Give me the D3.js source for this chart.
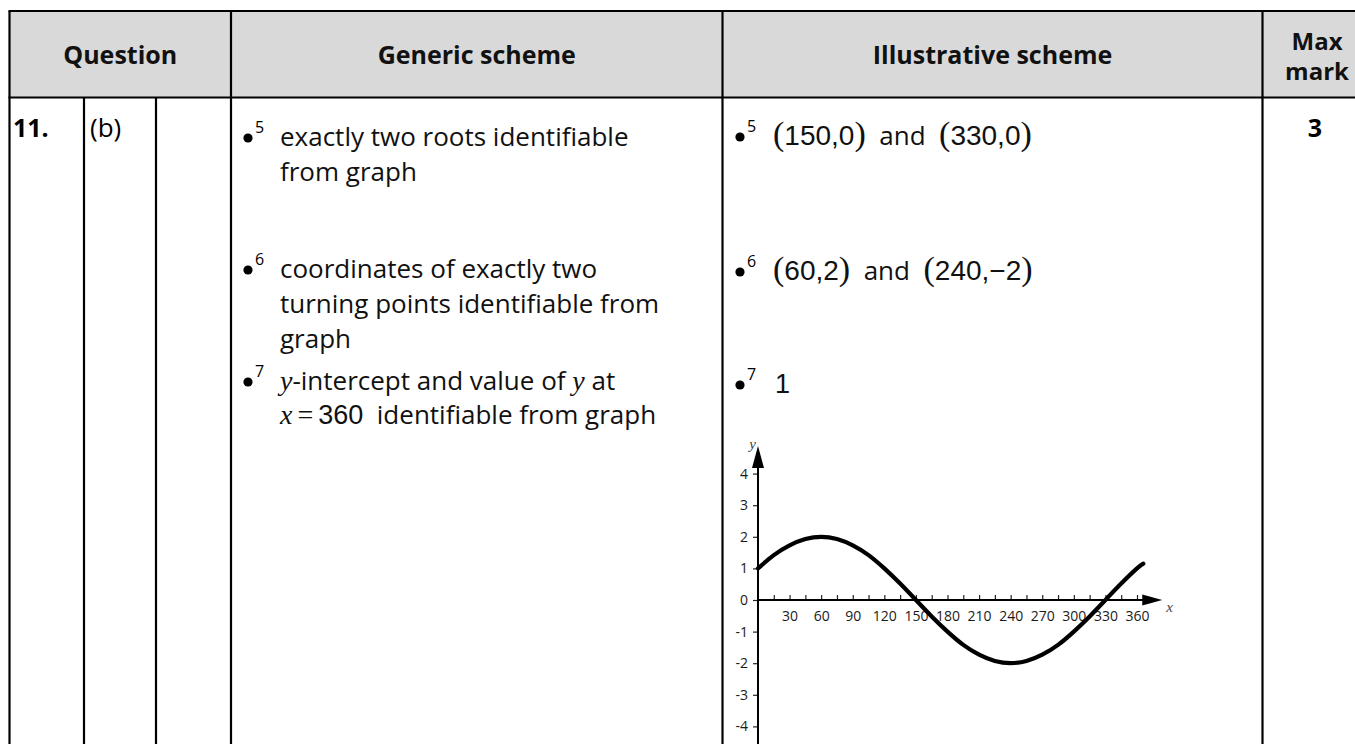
<!DOCTYPE html>
<html lang="en">
<head>
<meta charset="utf-8">
<title>Marking scheme 11(b)</title>
<script src="https://d3js.org/d3.v7.min.js"></script>
<style>
  body { margin: 0; background: #fff; }
  svg { display: block; }
</style>
</head>
<body>
<div id="chart"></div>
<script>
// ---- data ----
const headers = ["Question", "Generic scheme", "Illustrative scheme", "Max mark"];
const questionCells = ["11.", "(b)", ""];
const maxMark = "3";

// graph of the illustrative answer
const xTickLabels = [30, 60, 90, 120, 150, 180, 210, 240, 270, 300, 330, 360];
const xMinorTicks = [15, 30, 45, 60, 75, 90, 105, 120, 135, 150, 165, 180, 195, 210, 225, 240, 255, 270, 285, 300, 315, 330, 345, 360];
const yTickLabels = [4, 3, 2, 1, 0, -1, -2, -3, -4];
const curveX = [0, 15, 30, 45, 60, 75, 90, 105, 120, 135, 150, 165, 180, 195, 210, 225, 240, 255, 270, 285, 300, 315, 330, 345, 360, 366];
const curveY = [1.0, 1.42, 1.73, 1.93, 2.0, 1.93, 1.73, 1.42, 1.0, 0.52, 0.0, -0.52, -1.0, -1.42, -1.73, -1.93, -2.0, -1.93, -1.73, -1.42, -1.0, -0.52, 0.0, 0.52, 1.0, 1.15];

// ---- layout ----
const W = 1355, H = 744;
const colX = [9.5, 84, 156, 231, 722.5, 1262.5, 1372];
const tableTop = 11, headBottom = 97.5;
const sans = "'Open Sans', 'Noto Sans', sans-serif";
const serif = "'Liberation Serif', 'DejaVu Serif', serif";
const mathSans = "'Liberation Sans', Arial, sans-serif";
const fs = 26;

const svg = d3.select("#chart").append("svg")
    .attr("width", W)
    .attr("height", H);

// header background
svg.append("rect")
    .attr("x", colX[0]).attr("y", tableTop)
    .attr("width", colX[6] - colX[0]).attr("height", headBottom - tableTop)
    .attr("fill", "#d9d9d9");

// header texts
const headCentres = [
  (colX[0] + colX[3]) / 2,
  (colX[3] + colX[4]) / 2,
  (colX[4] + colX[5]) / 2,
  1317
];
headers.forEach(function(h, i) {
  const words = h == "Max mark" ? ["Max", "mark"] : [h];
  const y0 = words.length > 1 ? 50 : 64;
  words.forEach(function(w, j) {
    svg.append("text")
        .attr("x", headCentres[i])
        .attr("y", y0 + j * 30)
        .attr("text-anchor", "middle")
        .attr("font-family", sans)
        .attr("font-weight", 700)
        .attr("font-size", words.length > 1 ? 24 : 25)
        .attr("fill", "#111")
        .text(w);
  });
});

// table lines
const lines = svg.append("g").attr("stroke", "#000").attr("stroke-width", 2.2);
lines.append("line").attr("x1", colX[0] - 1).attr("x2", W).attr("y1", tableTop).attr("y2", tableTop);
lines.append("line").attr("x1", colX[0] - 1).attr("x2", W).attr("y1", headBottom).attr("y2", headBottom);
[0, 3, 4, 5].forEach(function(i) {
  lines.append("line").attr("x1", colX[i]).attr("x2", colX[i]).attr("y1", tableTop).attr("y2", H);
});
[1, 2].forEach(function(i) {
  lines.append("line").attr("x1", colX[i]).attr("x2", colX[i]).attr("y1", headBottom).attr("y2", H);
});

// question cells
svg.append("text").attr("x", 13).attr("y", 137)
    .attr("font-family", sans).attr("font-weight", 700).attr("font-size", 25)
    .text(questionCells[0]);
svg.append("text").attr("x", 90).attr("y", 137)
    .attr("font-family", sans).attr("font-size", fs)
    .text(questionCells[1]);
svg.append("text").attr("x", 1315).attr("y", 137).attr("text-anchor", "middle")
    .attr("font-family", sans).attr("font-weight", 700).attr("font-size", 25)
    .text(maxMark);

// bullet with superscript number
function bullet(x, y, n) {
  svg.append("circle").attr("cx", x + 5).attr("cy", y - 8).attr("r", 4.6).attr("fill", "#000");
  svg.append("text").attr("x", x + 12).attr("y", y - 13)
      .attr("font-family", sans).attr("font-size", 16)
      .text(n);
}

// a line of mixed text, each piece placed after the previous one
function line(x, y, parts) {
  let cx = x;
  parts.forEach(function(p) {
    const t = svg.append("text")
        .attr("x", cx + (p.dx || 0)).attr("y", y)
        .attr("font-family", p.f || sans)
        .attr("font-style", p.i ? "italic" : null)
        .attr("font-weight", p.w || null)
        .attr("font-size", p.s || fs)
        .attr("fill", "#111")
        .style("white-space", "pre")
        .text(p.t);
    cx += (p.dx || 0) + t.node().getComputedTextLength();
  });
}

// generic scheme
bullet(243, 146, "5");
line(280, 146, [{t: "exactly two roots identifiable"}]);
line(280, 181, [{t: "from graph"}]);

bullet(243, 278, "6");
line(280, 278, [{t: "coordinates of exactly two"}]);
line(280, 313, [{t: "turning points identifiable from"}]);
line(280, 348, [{t: "graph"}]);

bullet(243, 390, "7");
line(280, 390, [{t: "y", f: serif, i: true, s: 28}, {t: "-intercept and value of "}, {t: "y", f: serif, i: true, s: 28}, {t: " at"}]);
line(280, 424, [{t: "x", f: serif, i: true, s: 28}, {t: "=", f: serif, s: 28, dx: 5}, {t: "360", f: mathSans, s: 27, dx: 5}, {t: "  identifiable from graph"}]);

// illustrative scheme
function pair(y, a, b) {
  line(773, y, [
    {t: "(", f: serif, s: 34}, {t: a, f: mathSans, s: 28}, {t: ")", f: serif, s: 34},
    {t: "  and  "},
    {t: "(", f: serif, s: 34}, {t: b, f: mathSans, s: 28}, {t: ")", f: serif, s: 34}
  ]);
}
bullet(735, 145, "5");
pair(145, "150,0", "330,0");
bullet(735, 280, "6");
pair(280, "60,2", "240,\u22122");
bullet(735, 393, "7");
line(775, 393, [{t: "1", f: mathSans, s: 27, w: 300}]);

// ---- graph ----
const x = d3.scaleLinear().domain([0, 360]).range([758, 1137]);
const y = d3.scaleLinear().domain([-4, 4]).range([726.4, 473.6]);
const g = svg.append("g");

// x tick labels
g.append("g")
    .attr("transform", `translate(0, ${y(0)})`)
    .call(d3.axisBottom(x).tickValues(xTickLabels).tickSize(0).tickPadding(11).tickFormat(d => String(d)))
    .call(a => a.select(".domain").remove())
    .call(a => a.selectAll("text").attr("font-family", sans).attr("font-size", 14).attr("fill", "#1a1a1a"));

// minor x ticks above the axis
g.append("g")
    .attr("transform", `translate(0, ${y(0)})`)
    .call(d3.axisTop(x).tickValues(xMinorTicks).tickSize(5).tickFormat(""))
    .call(a => a.select(".domain").remove())
    .call(a => a.selectAll("line").attr("stroke", "#222").attr("stroke-width", 1.2));

// y ticks and labels (plain hyphen for negatives, as in the reference)
g.append("g")
    .attr("transform", `translate(${x(0)}, 0)`)
    .call(d3.axisLeft(y).tickValues(yTickLabels).tickSize(5).tickPadding(5).tickFormat(d => String(d)))
    .call(a => a.select(".domain").remove())
    .call(a => a.selectAll("line").attr("stroke", "#222").attr("stroke-width", 1.2))
    .call(a => a.selectAll("text").attr("font-family", sans).attr("font-size", 14).attr("fill", "#1a1a1a"));

// axes with arrows
const xEnd = 384, yEnd = 4.87;
g.append("line")
    .attr("x1", x(0)).attr("x2", x(xEnd) - 10)
    .attr("y1", y(0)).attr("y2", y(0))
    .attr("stroke", "#000").attr("stroke-width", 2);
g.append("path")
    .attr("d", `M${x(xEnd)},${y(0)} L${x(xEnd) - 20},${y(0) - 5.5} L${x(xEnd) - 20},${y(0) + 5.5} Z`)
    .attr("fill", "#000");
g.append("line")
    .attr("x1", x(0)).attr("x2", x(0))
    .attr("y1", H).attr("y2", y(yEnd) + 10)
    .attr("stroke", "#000").attr("stroke-width", 2);
g.append("path")
    .attr("d", `M${x(0)},${y(yEnd)} L${x(0) - 6},${y(yEnd) + 22} L${x(0) + 6},${y(yEnd) + 22} Z`)
    .attr("fill", "#000");

g.append("text").attr("x", x(xEnd) + 4).attr("y", y(0) + 12)
    .attr("font-family", serif).attr("font-style", "italic").attr("font-size", 15).attr("fill", "#444")
    .text("x");
g.append("text").attr("x", x(0) - 2).attr("y", y(yEnd) + 3).attr("text-anchor", "end")
    .attr("font-family", serif).attr("font-style", "italic").attr("font-size", 15).attr("fill", "#444")
    .text("y");

// the curve
const pts = curveX.map((d, i) => [d, curveY[i]]);
g.append("path")
    .datum(pts)
    .attr("fill", "none")
    .attr("stroke", "#000")
    .attr("stroke-width", 4.2)
    .attr("stroke-linecap", "round")
    .attr("d", d3.line().x(d => x(d[0])).y(d => y(d[1])).curve(d3.curveNatural));
</script>
</body>
</html>
